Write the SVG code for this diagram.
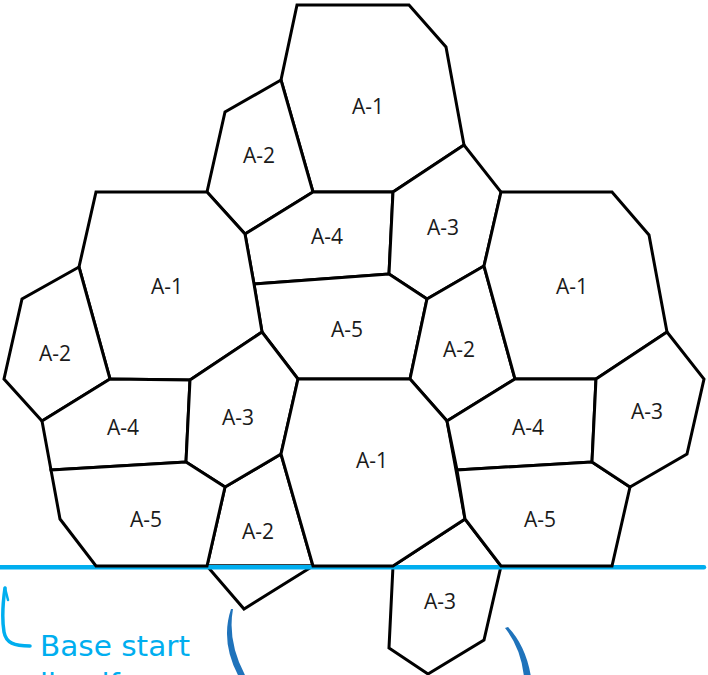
<svg xmlns="http://www.w3.org/2000/svg" width="708" height="675" viewBox="0 0 708 675">
<style>
.c{fill:#fff;stroke:#000;stroke-width:3;stroke-linejoin:miter;stroke-miterlimit:10}
.t{font-family:"Open Sans","DejaVu Sans",sans-serif;font-size:21px;fill:#1a1a1a;text-anchor:middle}
.base{stroke:#00aeef;stroke-width:4.4;stroke-linecap:round;fill:none}
.note{font-family:"DejaVu Sans","Liberation Sans",sans-serif;font-size:29px;fill:#00aeef}
.brush{fill:#1f73bb}
</style>
<rect width="708" height="675" fill="#fff"/>
<!-- cells lying under the base line -->
<g id="n-a2-bl"><polygon class="c" points="225,487 281,454 313,566 207,566"/><text class="t" x="258" y="539">A-2</text></g>
<g id="n-pent"><polygon class="c" points="207,566 244,609 313,566"/></g>
<g id="n-a3-bot"><polygon class="c" points="393,566 465,519 501,566 484,640 428,674 389,648"/><text class="t" x="440" y="609">A-3</text></g>
<g id="baseline"><line class="base" x1="-4" y1="567.2" x2="704" y2="567.2"/></g>
<!-- cells -->
<g id="n-a1-top"><polygon class="c" points="297,5 409,5 446,47 464,145 393,192 313,192 281,80"/><text class="t" x="368" y="114">A-1</text></g>
<g id="n-a2-top"><polygon class="c" points="281,80 225,112 207,192 245,234 313,192"/><text class="t" x="259" y="163">A-2</text></g>
<g id="n-a4-mid"><polygon class="c" points="245,234 313,192 393,192 389,274 254,284"/><text class="t" x="327" y="244">A-4</text></g>
<g id="n-a3-mid"><polygon class="c" points="393,192 464,145 501,192 484,266 427,299 389,274"/><text class="t" x="443" y="235">A-3</text></g>
<g id="n-a5-mid"><polygon class="c" points="254,284 389,274 427,299 410,379 298,379 262,332"/><text class="t" x="347" y="337">A-5</text></g>
<g id="n-a2-mid"><polygon class="c" points="427,299 484,266 515,379 447,421 410,379"/><text class="t" x="459" y="357">A-2</text></g>
<g id="n-a1-left"><polygon class="c" points="96,192 207,192 245,234 254,284 262,332 190,380 110,379 79,267"/><text class="t" x="167" y="294">A-1</text></g>
<g id="n-a2-left"><polygon class="c" points="79,267 22,299 4,379 42,421 110,379"/><text class="t" x="55" y="361">A-2</text></g>
<g id="n-a4-left"><polygon class="c" points="42,421 110,379 190,380 186,462 51,470"/><text class="t" x="123" y="435">A-4</text></g>
<g id="n-a3-left"><polygon class="c" points="190,380 262,332 298,379 281,454 225,487 186,462"/><text class="t" x="238" y="425">A-3</text></g>
<g id="n-a5-left"><polygon class="c" points="51,470 186,462 225,487 207,566 96,566 60,519"/><text class="t" x="146" y="527">A-5</text></g>
<g id="n-a1-center"><polygon class="c" points="298,379 410,379 447,421 465,519 393,566 313,566 281,454"/><text class="t" x="372" y="468">A-1</text></g>
<g id="n-a1-right"><polygon class="c" points="501,192 612,192 649,235 667,332 596,379 515,379 484,266"/><text class="t" x="572" y="294">A-1</text></g>
<g id="n-a4-right"><polygon class="c" points="447,421 515,379 596,379 592,462 457,470"/><text class="t" x="528" y="435">A-4</text></g>
<g id="n-a5-right"><polygon class="c" points="457,470 592,462 630,487 612,566 501,566 465,519"/><text class="t" x="540" y="527">A-5</text></g>
<g id="n-a3-right"><polygon class="c" points="667,332 704,379 687,454 630,487 592,462 596,379"/><text class="t" x="647" y="419">A-3</text></g>
<!-- annotation -->
<g id="note">
<path d="M5,588 C3,602 2,620 4,632 C6,643 14,646 30,646" fill="none" stroke="#00aeef" stroke-width="3.5" stroke-linecap="round"/>
<path d="M5,588 L8,600" fill="none" stroke="#00aeef" stroke-width="2.5" stroke-linecap="round"/>
<text class="note" x="40" y="656" textLength="150" lengthAdjust="spacingAndGlyphs">Base start</text>
<text class="note" x="40" y="694">line if</text>
</g>
<g id="brushes">
<path class="brush" d="M231,609 Q220,642 239,677 L246,677 Q227,642 233,609 Z"/>
<path class="brush" d="M505,628 Q521,648 524,677 L531,677 Q526,646 508,627 Z"/>
</g>
</svg>
